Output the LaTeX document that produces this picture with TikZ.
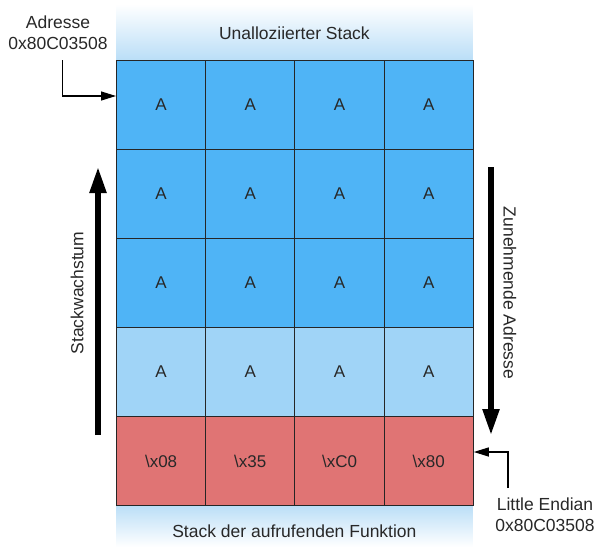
\documentclass[tikz,border=0pt]{standalone}
\usepackage{fontspec}
\setmainfont{Liberation Sans}
\usetikzlibrary{arrows.meta}
\definecolor{cblue}{RGB}{79,180,246}
\definecolor{clight}{RGB}{160,212,247}
\definecolor{cred}{RGB}{224,116,116}
\definecolor{cband}{RGB}{186,222,247}
\definecolor{ctext}{RGB}{40,40,40}
\begin{document}
\begin{tikzpicture}[x=1pt,y=-1pt,
  cell/.style={draw=black!85, line width=1pt, minimum width=89.2pt, minimum height=89pt,
    anchor=north west, inner sep=0pt, text=ctext, font=\fontsize{17}{20}\selectfont},
  lbl/.style={text=ctext, font=\fontsize{17.5}{21}\selectfont, inner sep=0pt, align=center},
  bigarrow/.style={line width=5.3pt, -{Triangle[length=26pt,width=16pt]}},
  thinarrow/.style={line width=1.2pt, -{Triangle[length=15pt,width=9pt]}}]
\useasboundingbox (0,0) rectangle (598,547);
% bands
\shade[top color=white, bottom color=cband] (116,4) rectangle (472.8,60);
\shade[top color=cband, bottom color=white] (116,505) rectangle (472.8,547);
\node[lbl] (top) at (294.4,33) {Unalloziierter Stack};
\node[lbl] (bot) at (294.4,531) {Stack der aufrufenden Funktion};
% cells
\foreach \r/\fc in {0/cblue,1/cblue,2/cblue,3/clight} {
  \foreach \c in {0,1,2,3} {
    \node[cell, fill=\fc] (c\r\c) at ({116+89.2*\c},{60+89*\r}) {A};
  }
}
\node[cell, fill=cred] (c40) at (116,416) {\textbackslash x08};
\node[cell, fill=cred] (c41) at (205.2,416) {\textbackslash x35};
\node[cell, fill=cred] (c42) at (294.4,416) {\textbackslash xC0};
\node[cell, fill=cred] (c43) at (383.6,416) {\textbackslash x80};
% big arrows
\coordinate (la1) at (98,435);
\coordinate (la2) at (98,167);
\draw[bigarrow] (la1) -- (la2);
\coordinate (ra1) at (491,167);
\coordinate (ra2) at (491,435);
\draw[bigarrow] (ra1) -- (ra2);
\node[lbl, rotate=90] (grow) at (77,293) {Stackwachstum};
\node[lbl, rotate=-90] (incr) at (510,293) {Zunehmende Adresse};
% labels
\node[lbl] (addr) at (58,33) {Adresse\\0x80C03508};
\draw[thinarrow] (62.5,60) |- (c00.west |- 0,96);
\node[lbl] (le) at (545,515) {Little Endian\\0x80C03508};
\draw[thinarrow] (508,488) |- (c43.east |- 0,452);
\end{tikzpicture}
\end{document}
